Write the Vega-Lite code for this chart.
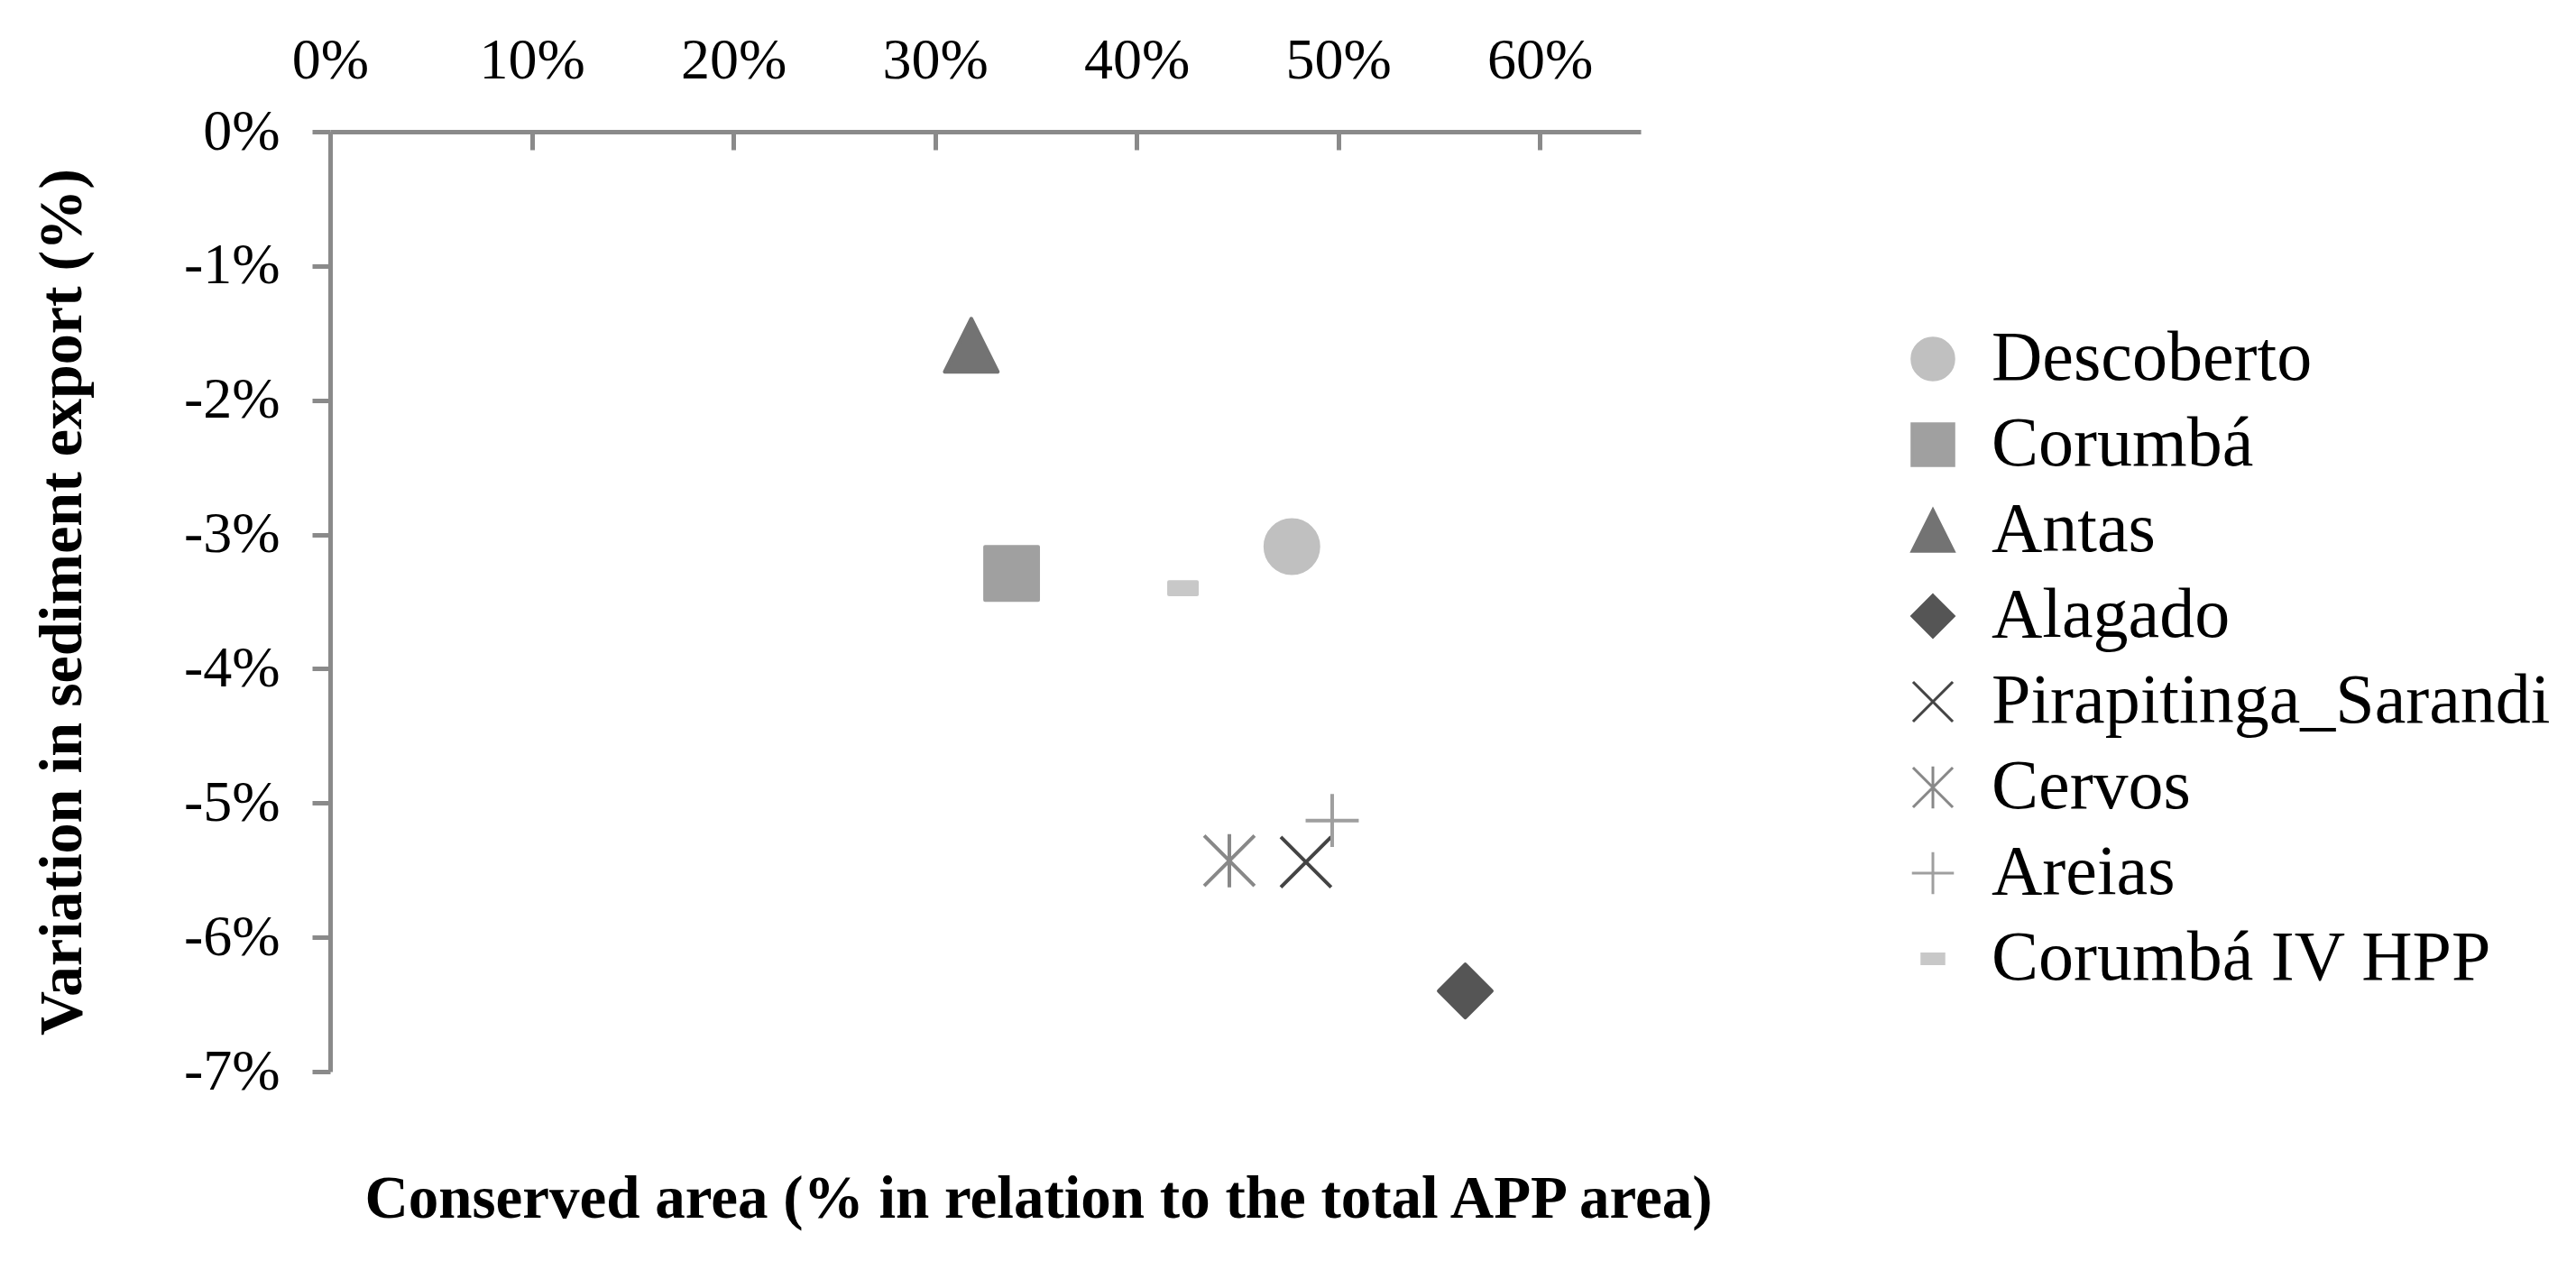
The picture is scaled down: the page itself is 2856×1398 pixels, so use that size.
{
  "$schema": "https://vega.github.io/schema/vega-lite/v6.json",
  "width": 1453,
  "height": 1042,
  "autosize": {"type": "none"},
  "padding": {"left": 366, "top": 146, "right": 1037, "bottom": 210},
  "background": "white",
  "data": {
    "values": [
      {"site": "Descoberto", "area": 47.7, "variation": -3.09},
      {"site": "Corumbá", "area": 33.8, "variation": -3.29},
      {"site": "Antas", "area": 31.8, "variation": -1.59},
      {"site": "Alagado", "area": 56.3, "variation": -6.4},
      {"site": "Pirapitinga_Sarandi", "area": 48.4, "variation": -5.44},
      {"site": "Cervos", "area": 44.6, "variation": -5.43},
      {"site": "Areias", "area": 49.7, "variation": -5.13},
      {"site": "Corumbá IV HPP", "area": 42.3, "variation": -3.4}
    ]
  },
  "title": {
    "text": "Conserved area (% in relation to the total APP area)",
    "orient": "bottom",
    "anchor": "middle",
    "frame": "group",
    "offset": 77,
    "dx": 59,
    "font": "Liberation Serif",
    "fontWeight": "bold",
    "fontSize": 67,
    "color": "black"
  },
  "mark": {"type": "point", "strokeWidth": 4, "opacity": 1, "fillOpacity": 1, "strokeOpacity": 1, "strokeJoin": "round", "strokeCap": "butt"},
  "encoding": {
    "x": {
      "field": "area",
      "type": "quantitative",
      "scale": {"domain": [0, 65], "nice": false, "zero": false},
      "axis": {
        "orient": "top",
        "values": [0, 10, 20, 30, 40, 50, 60],
        "labelExpr": "datum.value + '%'",
        "title": null,
        "grid": false,
        "domainColor": "#8a8a8a",
        "domainWidth": 5,
        "tickColor": "#8a8a8a",
        "tickWidth": 5,
        "tickSize": -20,
        "labelFont": "Liberation Serif",
        "labelFontSize": 64,
        "labelColor": "black",
        "labelPadding": 67,
        "labelFlush": false,
        "labelOverlap": false
      }
    },
    "y": {
      "field": "variation",
      "type": "quantitative",
      "scale": {"domain": [-7, 0], "nice": false, "zero": false},
      "axis": {
        "orient": "left",
        "values": [-7, -6, -5, -4, -3, -2, -1, 0],
        "labelExpr": "datum.value + '%'",
        "title": "Variation in sediment export (%)",
        "titleFont": "Liberation Serif",
        "titleFontWeight": "bold",
        "titleFontSize": 68,
        "titleColor": "black",
        "titlePadding": 100,
        "grid": false,
        "domainColor": "#8a8a8a",
        "domainWidth": 5,
        "tickColor": "#8a8a8a",
        "tickWidth": 5,
        "tickSize": 20,
        "labelFont": "Liberation Serif",
        "labelFontSize": 64,
        "labelColor": "black",
        "labelPadding": 36,
        "labelFlush": false,
        "labelOverlap": false
      }
    },
    "shape": {
      "field": "site",
      "type": "nominal",
      "scale": {
        "domain": ["Descoberto", "Corumbá", "Antas", "Alagado", "Pirapitinga_Sarandi", "Cervos", "Areias", "Corumbá IV HPP"],
        "range": [
          "M0.95,0A0.95,0.95,0,1,1,-0.95,0A0.95,0.95,0,1,1,0.95,0Z",
          "M-0.95,-0.95H0.95V0.95H-0.95Z",
          "M0,-0.95L0.95,0.95H-0.95Z",
          "M0,-0.95L0.95,0L0,0.95L-0.95,0Z",
          "M-0.9,-0.9L0.9,0.9M-0.9,0.9L0.9,-0.9",
          "M-0.9,-0.9L0.9,0.9M-0.9,0.9L0.9,-0.9M0,-0.95V0.95",
          "M-0.95,0H0.95M0,-0.95V0.95",
          "M-0.5,-0.22H0.5V0.22H-0.5Z"
        ]
      },
      "legend": {
        "orient": "none",
        "legendX": 1738,
        "legendY": 213,
        "title": null,
        "padding": 0,
        "labelFont": "Liberation Serif",
        "labelFontSize": 78,
        "labelColor": "black",
        "labelLimit": 2000,
        "labelOffset": 26,
        "symbolSize": 2400,
        "symbolStrokeWidth": 3,
        "rowPadding": 17
      }
    },
    "fill": {
      "field": "site",
      "type": "nominal",
      "scale": {
        "domain": ["Descoberto", "Corumbá", "Antas", "Alagado", "Pirapitinga_Sarandi", "Cervos", "Areias", "Corumbá IV HPP"],
        "range": ["#c0c0c0", "#a0a0a0", "#737373", "#555555", "#444444", "#888888", "#9f9f9f", "#c8c8c8"]
      }
    },
    "stroke": {
      "field": "site",
      "type": "nominal",
      "scale": {
        "domain": ["Descoberto", "Corumbá", "Antas", "Alagado", "Pirapitinga_Sarandi", "Cervos", "Areias", "Corumbá IV HPP"],
        "range": ["#c0c0c0", "#a0a0a0", "#737373", "#555555", "#444444", "#888888", "#9f9f9f", "#c8c8c8"]
      }
    },
    "size": {"value": 3844}
  },
  "config": {"view": {"stroke": null}, "font": "Liberation Serif"}
}
